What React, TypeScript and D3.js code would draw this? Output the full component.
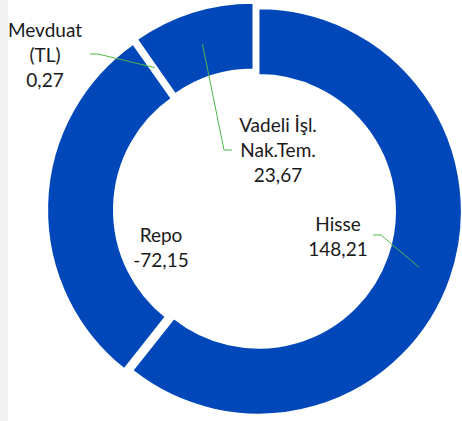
import React from 'react';
import * as d3 from 'd3';

// slice data, clockwise from 12 o'clock
const categories = ['Hisse', 'Repo', 'Mevduat (TL)', 'Vadeli İşl. Nak.Tem.'];
const values = [148.21, -72.15, 0.27, 23.67];
const labelLines = [
  ['Hisse', '148,21'],
  ['Repo', '-72,15'],
  ['Mevduat', '(TL)', '0,27'],
  ['Vadeli İşl.', 'Nak.Tem.', '23,67'],
];

// where each label block sits, and the elbow of its leader line (null = no leader)
const labelPos = [
  { x: 338, y: 231, elbow: [373, 235, 381, 235] },
  { x: 161, y: 242, elbow: null },
  { x: 45, y: 37, elbow: [90, 54, 98, 54] },
  { x: 278, y: 132, elbow: [232, 150, 224, 150] },
];

const W = 462;
const H = 421;
const cx = 254.6;
const cy = 210;
const outerR = 203;
const innerR = 136.5;
const explode = 4.3;
const lineH = 25;

export default function App() {
  const pie = d3
    .pie<number>()
    .sort(null)
    .value((d) => Math.abs(d))
    .startAngle(0)
    .endAngle(2 * Math.PI);
  const arcs = pie(values);

  const arc = d3.arc<d3.PieArcDatum<number>>().innerRadius(innerR).outerRadius(outerR);

  // offset of a slice along its mid angle
  const offset = (a: d3.PieArcDatum<number>, r: number) => {
    const m = (a.startAngle + a.endAngle) / 2;
    return [Math.sin(m) * r, -Math.cos(m) * r];
  };

  return (
    <div style={{ position: 'fixed', left: 0, top: 0 }}>
      <svg width={W} height={H} style={{ display: 'block', background: '#fff' }}>
        <rect x={0} y={0} width={8} height={H} fill="#f2f2f2" />
        <g transform={`translate(${cx},${cy})`}>
          {arcs.map((a, i) => {
            const [dx, dy] = offset(a, explode);
            return (
              <path
                key={categories[i]}
                d={arc(a) || ''}
                transform={`translate(${dx},${dy})`}
                fill="#0047BA"
                stroke="#fff"
                strokeWidth={1.6}
              />
            );
          })}
        </g>
        {arcs.map((a, i) => {
          const p = labelPos[i];
          if (!p.elbow) return null;
          const [ex, ey] = offset(a, (innerR + outerR) / 2 + explode);
          const pts = [
            [p.elbow[0], p.elbow[1]],
            [p.elbow[2], p.elbow[3]],
            [cx + ex, cy + ey],
          ];
          return (
            <polyline
              key={'l' + i}
              points={pts.map((q) => q.join(',')).join(' ')}
              fill="none"
              stroke="#4db848"
              strokeWidth={1}
            />
          );
        })}
        {labelLines.map((lines, i) => (
          <text
            key={'t' + i}
            x={labelPos[i].x}
            y={labelPos[i].y}
            textAnchor="middle"
            fontFamily="Lato, 'Open Sans', sans-serif"
            fontSize={19}
            fill="#1a1a1a"
          >
            {lines.map((s, j) => (
              <tspan key={j} x={labelPos[i].x} y={labelPos[i].y + j * lineH}>
                {s}
              </tspan>
            ))}
          </text>
        ))}
      </svg>
    </div>
  );
}
